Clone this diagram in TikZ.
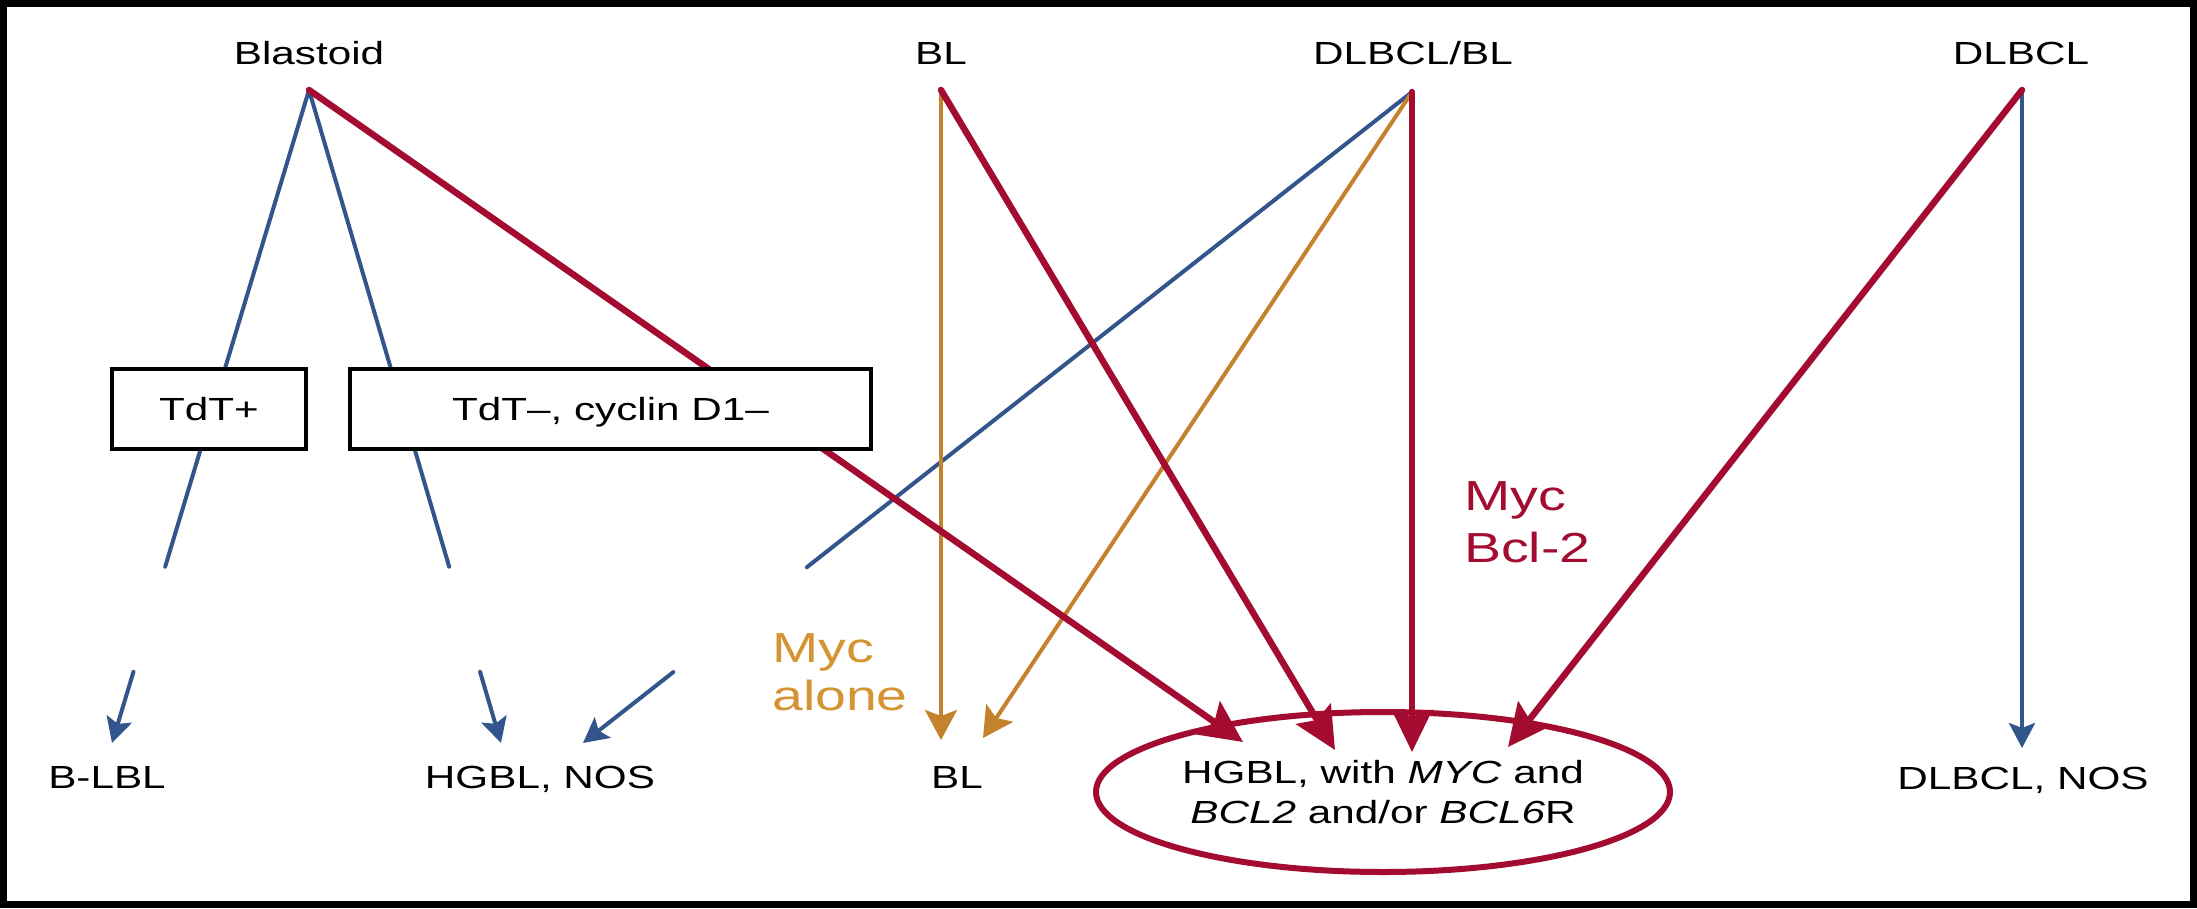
\documentclass[tikz,border=0pt]{standalone}
\usepackage{fontspec}
\setmainfont{Liberation Sans}
\usepackage{graphicx}
\usetikzlibrary{arrows.meta,shapes.geometric,calc}
\definecolor{cred}{RGB}{163,12,48}
\definecolor{cblue}{RGB}{50,85,140}
\definecolor{corange}{RGB}{196,130,45}
\definecolor{corangetext}{RGB}{212,148,52}
\newcommand{\hst}[1]{\scalebox{1.32}[1]{#1}}
\begin{document}
\begin{tikzpicture}[x=1pt,y=-1pt,
  lbl/.style={anchor=base, font=\fontsize{32}{40}\selectfont, inner sep=0pt},
  bigl/.style={anchor=base west, font=\fontsize{42}{48}\selectfont, inner sep=0pt},
  boxn/.style={draw=black, line width=4.5pt, fill=white, text height=22.9pt, text depth=0pt, inner sep=0pt, font=\fontsize{32}{40}\selectfont},
  bluel/.style={draw=cblue, line width=4pt, line cap=round},
  redl/.style={draw=cred, line width=6.5pt, line cap=round},
  orl/.style={draw=corange, line width=4pt, line cap=round},
  bluetip/.style={-{Stealth[length=25pt,width=26pt,inset=5pt]}},
  redtip/.style={-{Stealth[length=42pt,width=40pt,inset=7pt]}},
  ortip/.style={-{Stealth[length=30pt,width=32pt,inset=6pt]}}
]
\useasboundingbox (0,0) rectangle (2197,908);
\fill[white] (0,0) rectangle (2197,908);
\draw[line width=7pt] (3.5,3.5) rectangle (2193.5,904.5);

% top labels
\node[lbl] (tBlast) at (309,64) {\hst{Blastoid}};
\node[lbl] (tBL) at (941,64) {\hst{BL}};
\node[lbl] (tDB) at (1413,64) {\hst{DLBCL/BL}};
\node[lbl] (tDL) at (2021,64) {\hst{DLBCL}};

% apex points
\coordinate (aBlast) at (309,90);
\coordinate (aBL) at (941,90);
\coordinate (aDB) at (1412,92);
\coordinate (aDL) at (2022,90);

% bottom labels
\node[lbl] (bLBL) at (107,788) {\hst{B-LBL}};
\node[lbl] (bNOS) at (540,788) {\hst{HGBL, NOS}};
\node[lbl] (bBL) at (957,788) {\hst{BL}};
\node[lbl] (bDL) at (2023,789) {\hst{DLBCL, NOS}};

\node[ellipse, draw=cred, line width=6pt, minimum width=574pt, minimum height=160pt, inner sep=0pt, align=center, font=\fontsize{32}{40}\selectfont] (hgbl) at (1383,792)
  {\hst{HGBL, with \textit{MYC} and}\\\hst{\textit{BCL2} and/or \textit{BCL6}R}};

% arrow tips
\coordinate (k1) at (112,743);
\coordinate (k2) at (501,743);
\coordinate (k3) at (583,743);
\coordinate (k4) at (941,740);
\coordinate (k5) at (983,738);
\coordinate (k6) at (1243,742);
\coordinate (k7) at (1335,750);
\coordinate (k8) at (1412,752);
\coordinate (k9) at (1508,747);
\coordinate (k10) at (2022,748);

% blue connectors (interrupted)
\draw[bluel] (aBlast) -- ($(aBlast)!0.730!(k1)$);
\draw[bluel,bluetip] ($(aBlast)!0.891!(k1)$) -- (k1);
\draw[bluel] (aBlast) -- ($(aBlast)!0.730!(k2)$);
\draw[bluel,bluetip] ($(aBlast)!0.891!(k2)$) -- (k2);
\draw[bluel] (aDB) -- ($(aDB)!0.730!(k3)$);
\draw[bluel,bluetip] ($(aDB)!0.891!(k3)$) -- (k3);
\draw[bluel,bluetip] (aDL) -- (k10);

% orange connectors
\draw[orl,ortip] (aBL) -- (k4);
\draw[orl,ortip] (aDB) -- (k5);

% red connectors
\draw[redl,redtip] (aBlast) -- (k6);
\draw[redl,redtip] (aBL) -- (k7);
\draw[redl,redtip] (aDB) -- (k8);
\draw[redl,redtip] (aDL) -- (k9);

% boxes
\node[boxn, minimum width=194pt, minimum height=80pt] (bxA) at (209,409) {\hst{TdT+}};
\node[boxn, minimum width=521pt, minimum height=80pt] (bxB) at (610.5,409) {\hst{TdT–, cyclin D1–}};

% labels
\node[bigl, text=corangetext] (ma1) at (772,662) {\hst{Myc}};
\node[bigl, text=corangetext] (ma2) at (772,710) {\hst{alone}};
\node[bigl, text=cred] (mb1) at (1464,510) {\hst{Myc}};
\node[bigl, text=cred] (mb2) at (1464,562) {\hst{Bcl-2}};
\end{tikzpicture}
\end{document}
